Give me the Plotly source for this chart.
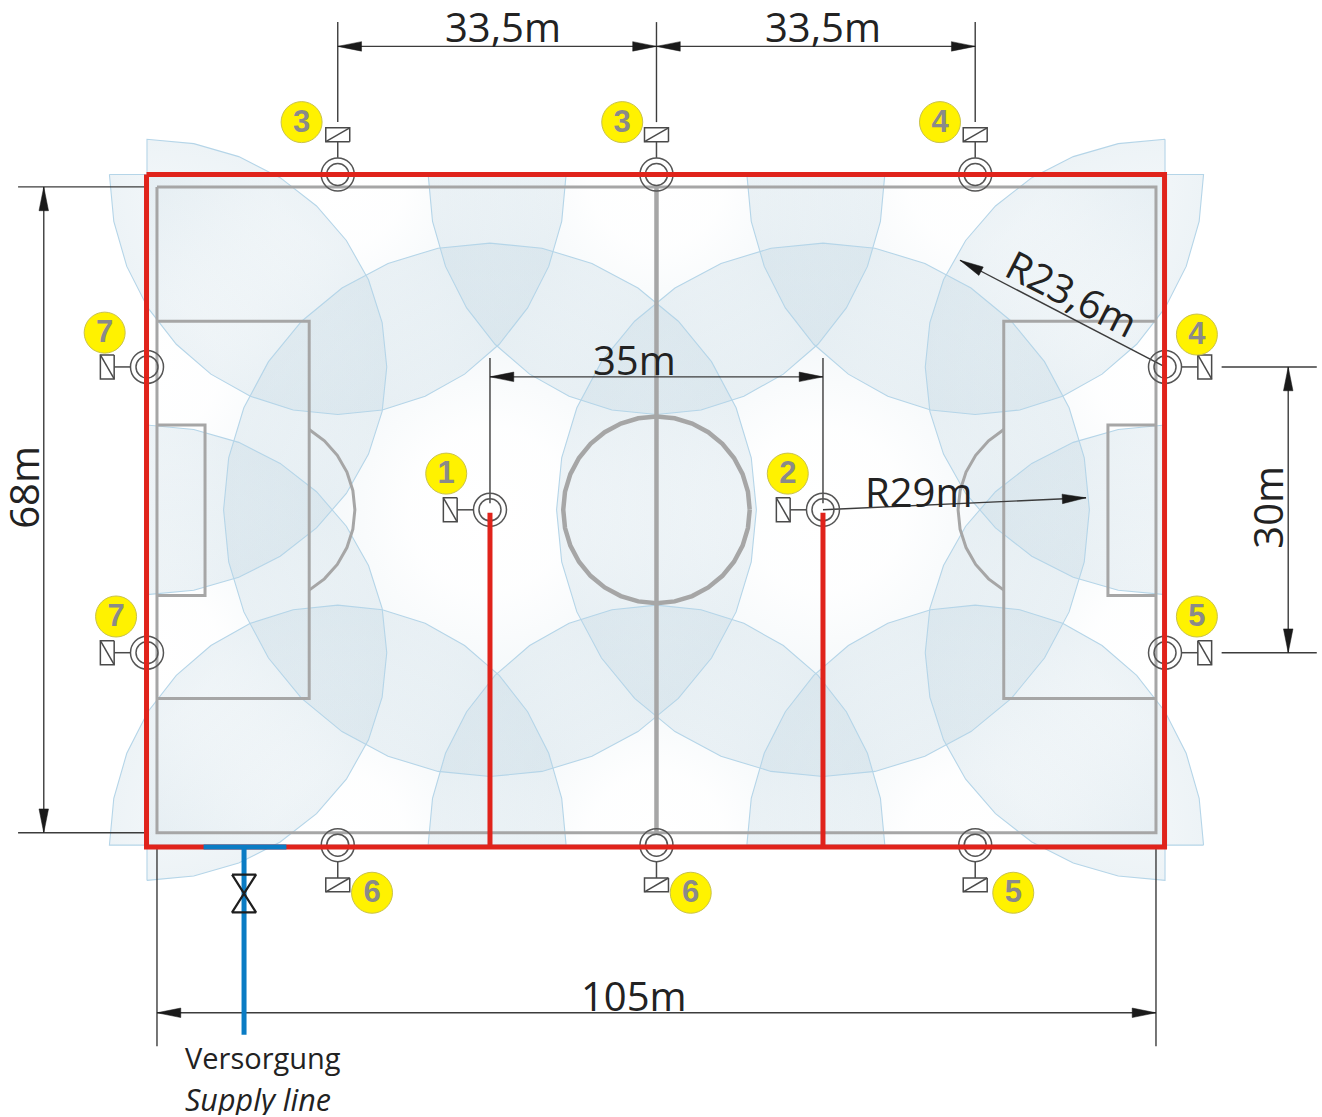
import math
import plotly.graph_objects as go

# All distances are in metres, origin at the centre spot, y pointing up.
spr_x = [-33.5, 0.0, 33.5, -53.55, -53.55, -17.5, 17.5, 53.45, 53.45, -33.5, 0.0, 33.5]
spr_y = [35.2, 35.2, 35.2, 15.0, -15.0, 0.0, 0.0, 15.0, -15.0, -35.2, -35.2, -35.2]
spr_dir = ["N", "N", "N", "W", "W", "W", "W", "E", "E", "S", "S", "S"]
spr_throw = [270, 270, 270, 0, 0, 0, 0, 180, 180, 90, 90, 90]
spr_sweep = [180, 180, 180, 180, 180, 360, 360, 180, 180, 180, 180, 180]
spr_r_throw = [25.2, 25.2, 25.2, 25.2, 25.2, 28.0, 28.0, 25.2, 25.2, 25.2, 25.2, 25.2]
spr_r_side = [24.0, 24.0, 24.0, 23.9, 23.9, 28.0, 28.0, 23.9, 23.9, 24.0, 24.0, 24.0]

badge_x = [-37.3, -3.6, 29.8, -58.0, -56.8, -22.1, 13.8, 56.8, 56.8, -29.9, 3.6, 37.5]
badge_y = [40.7, 40.7, 40.7, 18.6, -11.2, 3.8, 3.8, 18.4, -11.2, -40.2, -40.2, -40.2]
badge_text = ["3", "3", "4", "7", "7", "1", "2", "4", "5", "6", "6", "5"]
badge_digit_y = [-0.2]

# Pitch
pitch_hw, pitch_hh = 52.5, 33.9
penalty_x, penalty_hh = 36.5, 19.8
goal_x, goal_top, goal_bot = 47.45, 8.9, -9.0
centre_r = 9.8
spot_x, arc_half_deg = 41.5, 59.6

# Pipes
red_left, red_right, red_top, red_bot = -53.6, 53.4, 35.2, -35.4
feed_x = [-17.5, 17.5]
feed_top = -0.3
blue_x0, blue_x1, blue_riser_x, blue_end_y = -47.6, -38.9, -43.35, -55.1
valve_hw, valve_top, valve_mid, valve_bot = 1.26, -38.3, -40.3, -42.25

# Dimension lines: x0, y0, x1, y1
dim_x0 = [-33.5, 0.0, -64.4, 66.4, -17.5, -52.5, 17.5, 53.45]
dim_y0 = [48.65, 48.65, 33.9, 15.0, 13.96, -52.8, 0.0, 15.0]
dim_x1 = [0.0, 33.5, -64.4, 66.4, 17.5, 52.5, 45.15, 31.9]
dim_y1 = [48.65, 48.65, -33.9, -15.0, 13.96, -52.8, 1.26, 26.2]
dim_start_arrow = [True, True, True, True, True, True, False, False]

# Extension lines: x0, y0, x1, y1
ext_x0 = [-33.5, 0.0, 33.5, -67.1, -67.1, 59.4, 59.4, -17.5, 17.5, -52.5, 52.5]
ext_y0 = [51.2, 51.2, 51.2, 33.9, -33.9, 15.0, -15.0, 15.95, 15.95, -35.2, -35.2]
ext_x1 = [-33.5, 0.0, 33.5, -53.8, -53.8, 69.4, 69.4, -17.5, 17.5, -52.5, 52.5]
ext_y1 = [40.7, 40.7, 40.7, 33.9, -33.9, 15.0, -15.0, 0.7, 0.7, -56.3, -56.3]

# Dimension texts
label_text = ["33,5m", "33,5m", "68m", "35m", "R29m", "R23,6m", "30m", "105m"]
label_x = [-16.1, 17.5, -66.5, -2.3, 27.5, 43.7, 64.25, -2.4]
label_y = [50.8, 50.8, 2.4, 15.8, 2.0, 22.8, 0.3, -50.9]
label_rot = [0, 0, -90, 0, 0, 27, -90, 0]

GREY = "#A6A6A6"
RED = "#E0231B"
BLUE = "#0A7CC4"
DARK = "#3C3C3C"
RING = "#555555"
FONT = "Open Sans"


def sep_lines(segments):
    xs, ys = [], []
    for seg in segments:
        for p in seg:
            xs.append(p[0])
            ys.append(p[1])
        xs.append(None)
        ys.append(None)
    return xs, ys


def sector_points(i, n_per_180=16):
    cx, cy = spr_x[i], spr_y[i]
    sweep = spr_sweep[i]
    th0 = spr_throw[i]
    n = int(n_per_180 * sweep / 180)
    pts = []
    for k in range(n + 1):
        t = -sweep / 2 + sweep * k / n
        a = math.radians(t)
        u = spr_r_throw[i] * math.cos(a)
        v = spr_r_side[i] * math.sin(a)
        c, s = math.cos(math.radians(th0)), math.sin(math.radians(th0))
        pts.append((cx + u * c - v * s, cy + u * s + v * c))
    return pts


def polyline(cx, cy, r, a0, a1, n):
    return [(cx + r * math.cos(math.radians(a0 + (a1 - a0) * k / n)),
             cy + r * math.sin(math.radians(a0 + (a1 - a0) * k / n))) for k in range(n + 1)]


fig = go.Figure()

# Coverage sectors with radial fade
scale = [[0.0, "rgba(190,212,224,0)"], [0.3, "rgba(190,212,224,0.02)"],
         [0.62, "rgba(190,212,224,0.15)"], [1.0, "rgba(190,212,224,0.28)"]]
outline = []
for i in range(len(spr_x)):
    pts = sector_points(i)
    cx, cy = spr_x[i], spr_y[i]
    path = list(pts)
    if spr_sweep[i] < 360:
        c, s = math.cos(math.radians(spr_throw[i])), math.sin(math.radians(spr_throw[i]))
        path += [(cx, cy), (cx - spr_r_throw[i] * c, cy - spr_r_throw[i] * s), (cx, cy)]
        outline.append(pts + [pts[0]])
    else:
        outline.append(pts)
    fig.add_trace(go.Scatter(x=[p[0] for p in path], y=[p[1] for p in path], mode="lines",
                             fill="toself", line=dict(width=0, color="rgba(0,0,0,0)"),
                             fillgradient=dict(type="radial", colorscale=scale),
                             hoverinfo="skip", showlegend=False))
ox, oy = sep_lines(outline)
fig.add_trace(go.Scatter(x=ox, y=oy, mode="lines", line=dict(color="#B5D5E8", width=1.1), showlegend=False))

# Pitch markings
W, H = pitch_hw, pitch_hh
pitch = [[(-W, H), (W, H), (W, -H), (-W, -H), (-W, H)]]
for sgn in (-1, 1):
    pitch.append([(sgn * W, penalty_hh), (sgn * penalty_x, penalty_hh),
                  (sgn * penalty_x, -penalty_hh), (sgn * W, -penalty_hh)])
    pitch.append([(sgn * W, goal_top), (sgn * goal_x, goal_top),
                  (sgn * goal_x, goal_bot), (sgn * W, goal_bot)])
    mid = 0 if sgn < 0 else 180
    pitch.append(polyline(sgn * spot_x, 0, centre_r, mid - arc_half_deg, mid + arc_half_deg, 10))
px, py = sep_lines(pitch)
fig.add_trace(go.Scatter(x=px, y=py, mode="lines", line=dict(color=GREY, width=3), showlegend=False))
cx_, cy_ = sep_lines([polyline(0, 0, centre_r, 0, 360, 32), [(0, H), (0, -H)]])
fig.add_trace(go.Scatter(x=cx_, y=cy_, mode="lines", line=dict(color=GREY, width=4.5), showlegend=False))

# Dimension and extension lines
dims = [[(dim_x0[i], dim_y0[i]), (dim_x1[i], dim_y1[i])] for i in range(len(dim_x0))]
exts = [[(ext_x0[i], ext_y0[i]), (ext_x1[i], ext_y1[i])] for i in range(len(ext_x0))]
lx, ly = sep_lines(dims + exts)
fig.add_trace(go.Scatter(x=lx, y=ly, mode="lines", line=dict(color=DARK, width=1.4), showlegend=False))

# Arrow heads
ARROW_L, ARROW_HW = 2.5, 0.5
heads = []


def head(tx, ty, fx, fy):
    d = math.hypot(fx - tx, fy - ty)
    ux, uy = (fx - tx) / d, (fy - ty) / d
    bx, by = tx + ux * ARROW_L, ty + uy * ARROW_L
    heads.append([(tx, ty), (bx - uy * ARROW_HW, by + ux * ARROW_HW),
                  (bx + uy * ARROW_HW, by - ux * ARROW_HW), (tx, ty)])


for i in range(len(dim_x0)):
    head(dim_x1[i], dim_y1[i], dim_x0[i], dim_y0[i])
    if dim_start_arrow[i]:
        head(dim_x0[i], dim_y0[i], dim_x1[i], dim_y1[i])
hx, hy = sep_lines(heads)
fig.add_trace(go.Scatter(x=hx, y=hy, mode="lines", fill="toself", fillcolor="#1A1A1A",
                         line=dict(color="#1A1A1A", width=0.5), showlegend=False))

# Sprinkler rings
for size in (33, 22):
    fig.add_trace(go.Scatter(x=spr_x, y=spr_y, mode="markers", showlegend=False,
                             marker=dict(symbol="circle-open", size=size, color=RING,
                                         line=dict(color=RING, width=1.5))))

# Solenoid symbols
STEM0, BOX0, BOX1, BOX_HW = 1.75, 3.45, 4.9, 1.26
DIRS = {"N": (0, 1), "S": (0, -1), "W": (-1, 0), "E": (1, 0)}
sym = []
for i, d in enumerate(spr_dir):
    ux, uy = DIRS[d]
    x, y = spr_x[i], spr_y[i]
    sym.append([(x + ux * STEM0, y + uy * STEM0), (x + ux * BOX0, y + uy * BOX0)])
    vx, vy = (1, 0) if d in "NS" else (0, 1)
    a = (x + ux * BOX0 + vx * BOX_HW, y + uy * BOX0 + vy * BOX_HW)
    b = (x + ux * BOX1 + vx * BOX_HW, y + uy * BOX1 + vy * BOX_HW)
    c = (x + ux * BOX1 - vx * BOX_HW, y + uy * BOX1 - vy * BOX_HW)
    e = (x + ux * BOX0 - vx * BOX_HW, y + uy * BOX0 - vy * BOX_HW)
    sym.append([a, b, c, e, a])
    if d in "NS":
        lowleft = (x - BOX_HW, min(y + uy * BOX0, y + uy * BOX1))
        upright = (x + BOX_HW, max(y + uy * BOX0, y + uy * BOX1))
        sym.append([lowleft, upright])
    else:
        left, right = min(x + ux * BOX0, x + ux * BOX1), max(x + ux * BOX0, x + ux * BOX1)
        sym.append([(left, y + BOX_HW), (right, y - BOX_HW)])
sx, sy = sep_lines(sym)
fig.add_trace(go.Scatter(x=sx, y=sy, mode="lines", line=dict(color="#4A4A4A", width=1.5), showlegend=False))

# Red ring main and feeds
frame = [[(red_left, red_top), (red_right, red_top), (red_right, red_bot), (red_left, red_bot), (red_left, red_top)]]
for fx in feed_x:
    frame.append([(fx, feed_top), (fx, red_bot)])
rx, ry = sep_lines(frame)
fig.add_trace(go.Scatter(x=rx, y=ry, mode="lines", line=dict(color=RED, width=5), showlegend=False))

# Blue supply
bx_, by_ = sep_lines([[(blue_x0, red_bot), (blue_x1, red_bot)],
                      [(blue_riser_x, red_bot), (blue_riser_x, blue_end_y)]])
fig.add_trace(go.Scatter(x=bx_, y=by_, mode="lines", line=dict(color=BLUE, width=5), showlegend=False))

# Valve
v = blue_riser_x
fig.add_trace(go.Scatter(
    x=[v - valve_hw, v + valve_hw, v - valve_hw, v + valve_hw, v - valve_hw],
    y=[valve_top, valve_top, valve_bot, valve_bot, valve_top],
    mode="lines", line=dict(color="#1E1E1E", width=2.2), showlegend=False))

# Numbered badges
fig.add_trace(go.Scatter(
    x=badge_x, y=badge_y, mode="markers",
    marker=dict(size=41, color="#FFF200", line=dict(color="#C9C24A", width=1)), showlegend=False))
fig.add_trace(go.Scatter(
    x=badge_x, y=[b + badge_digit_y[0] for b in badge_y], mode="text", text=badge_text,
    textposition="middle center",
    textfont=dict(family="Liberation Sans", size=31, color="#8A8A8A", weight="bold"), showlegend=False))

annotations = []
for t, x, y, r in zip(label_text, label_x, label_y, label_rot):
    annotations.append(dict(x=x, y=y, text=t, textangle=r, showarrow=False, xanchor="center", yanchor="middle",
                            height=42, font=dict(family=FONT, size=40, color="#222222")))
annotations.append(dict(x=-49.8, y=-57.5, text="Versorgung", showarrow=False, xanchor="left", yanchor="middle",
                        font=dict(family=FONT, size=29, color="#222222")))
annotations.append(dict(x=-49.8, y=-61.9, text="<i>Supply line</i>", showarrow=False, xanchor="left", yanchor="middle",
                        height=32, font=dict(family=FONT, size=30.5, color="#222222")))

fig.update_layout(
    width=1322, height=1117, autosize=False, margin=dict(l=0, r=0, t=0, b=0),
    paper_bgcolor="white", plot_bgcolor="white", showlegend=False, annotations=annotations,
    xaxis=dict(range=[-69.0, 69.95], visible=False, fixedrange=True),
    yaxis=dict(range=[-63.74, 53.52], visible=False, fixedrange=True),
)
fig.write_html("out.html", config=dict(displayModeBar=False),
               post_script="document.body.style.margin='0';")
